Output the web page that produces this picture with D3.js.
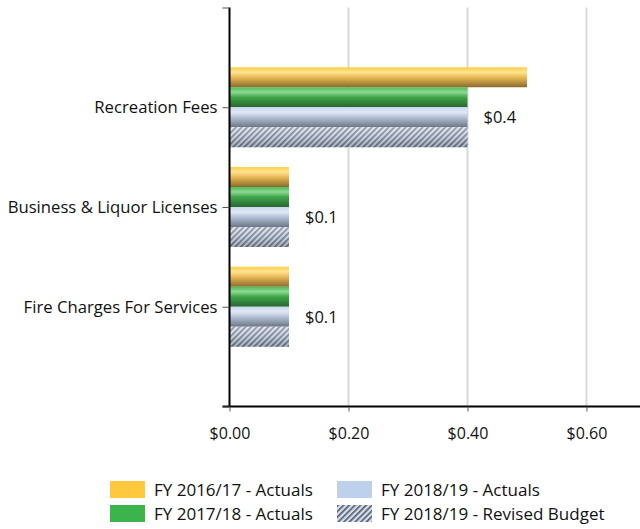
<!DOCTYPE html>
<meta charset="utf-8">
<style>
    body { margin: 0; background: #fff; }
    svg text { font-family: "Open Sans", sans-serif; fill: #111; }
</style>
<script src="https://d3js.org/d3.v7.min.js"></script>
<div id="chart"></div>
<script>

    // data
    var categories = ["Recreation Fees", "Business & Liquor Licenses", "Fire Charges For Services"];
    var seriesNames = ["FY 2016/17 - Actuals", "FY 2017/18 - Actuals", "FY 2018/19 - Actuals", "FY 2018/19 - Revised Budget"];
    var fy1617 = [0.5, 0.1, 0.1];
    var fy1718 = [0.4, 0.1, 0.1];
    var fy1819 = [0.4, 0.1, 0.1];
    var fy1819Budget = [0.4, 0.1, 0.1];
    var valueLabels = ["$0.4", "$0.1", "$0.1"];
    var xTicks = [0, 0.2, 0.4, 0.6];

    var width = 640, height = 529;
    var plotLeft = 229.5, plotRight = 640, plotTop = 7.5, plotBottom = 406.5;

    var svg = d3.select("#chart").append("svg")
        .attr("width", width)
        .attr("height", height);

    var defs = svg.append("defs");

    function grad(id, stops) {
        var g = defs.append("linearGradient").attr("id", id)
            .attr("x1", 0).attr("y1", 0).attr("x2", 0).attr("y2", 1);
        stops.forEach(function (s) {
            g.append("stop").attr("offset", s[0]).attr("stop-color", s[1]);
        });
    }
    grad("gYellow", [[0, "#ffcf45"], [0.25, "#ffe392"], [0.5, "#e9ba55"], [1, "#8a6a2c"]]);
    grad("gGreen", [[0, "#4cbb55"], [0.25, "#8fd894"], [0.5, "#3ea648"], [1, "#2a6531"]]);
    grad("gBlue", [[0, "#c8d6ee"], [0.25, "#e1e9f7"], [0.5, "#b4c1d6"], [1, "#6c7687"]]);
    grad("gHatchBg", [[0, "#ffffff"], [0.5, "#b8c0cc"], [1, "#4a5260"]]);

    var hatch = defs.append("pattern").attr("id", "hatch")
        .attr("patternUnits", "userSpaceOnUse")
        .attr("width", 4).attr("height", 4)
        .attr("patternTransform", "rotate(45)");
    hatch.append("rect").attr("width", 4).attr("height", 4).attr("fill", "#d7deea");
    hatch.append("rect").attr("width", 1.6).attr("height", 4).attr("fill", "#4d5970");

    var fills = ["url(#gYellow)", "url(#gGreen)", "url(#gBlue)", "url(#hatch)"];
    var series = [fy1617, fy1718, fy1819, fy1819Budget];

    var x = d3.scaleLinear().domain([0, 0.69]).range([plotLeft, plotRight]);
    // categories sit on positions 1..3, with blank slots at 0 and 4
    var y = d3.scaleLinear().domain([0, 4]).range([plotTop, plotBottom]);
    var barH = 20;

    // gridlines
    svg.append("g").selectAll("line")
        .data(xTicks.slice(1))
        .enter().append("line")
        .attr("x1", function (d) { return Math.round(x(d)) + 0.5; })
        .attr("x2", function (d) { return Math.round(x(d)) + 0.5; })
        .attr("y1", plotTop).attr("y2", plotBottom)
        .attr("stroke", "#d9d9d9").attr("stroke-width", 2);

    // bars
    series.forEach(function (vals, si) {
        svg.append("g").selectAll("rect")
            .data(vals)
            .enter().append("rect")
            .attr("x", x(0))
            .attr("y", function (d, i) { return y(i + 1) - 2 * barH + si * barH; })
            .attr("width", function (d) { return x(d) - x(0); })
            .attr("height", barH)
            .attr("fill", fills[si]);
    });
    // shading over the hatch
    svg.append("g").selectAll("rect")
        .data(fy1819Budget)
        .enter().append("rect")
        .attr("x", x(0))
        .attr("y", function (d, i) { return y(i + 1) + barH; })
        .attr("width", function (d) { return x(d) - x(0); })
        .attr("height", barH)
        .attr("fill", "url(#gHatchBg)")
        .attr("opacity", 0.35);

    // value labels
    svg.append("g").selectAll("text")
        .data(valueLabels)
        .enter().append("text")
        .attr("x", function (d, i) { return x(fy1819[i]) + 16; })
        .attr("y", function (d, i) { return y(i + 1) + 10; })
        .attr("dy", "0.35em")
        .attr("font-size", 16.5)
        .text(function (d) { return d; });

    // x axis
    var xAxis = svg.append("g")
        .attr("transform", "translate(0," + plotBottom + ")")
        .call(d3.axisBottom(x).tickValues(xTicks).tickSize(5)
            .tickFormat(function (d) { return "$" + d3.format(".2f")(d); }));
    xAxis.select(".domain").attr("stroke", "#000").attr("stroke-width", 2)
        .attr("d", "M" + (plotLeft - 7) + ",0H" + plotRight);
    xAxis.selectAll(".tick line").attr("stroke", "#555");
    xAxis.selectAll(".tick text")
        .attr("font-family", "Open Sans, sans-serif")
        .attr("font-size", 16).attr("fill", "#111").attr("dy", "1.55em");

    // y axis
    var yAxis = svg.append("g")
        .attr("transform", "translate(" + plotLeft + ",0)")
        .call(d3.axisLeft(y).tickValues([0, 1, 2, 3, 4]).tickSize(7)
            .tickFormat(function (d) { return categories[d - 1] || ""; }));
    yAxis.select(".domain").attr("stroke", "#000").attr("stroke-width", 2)
        .attr("d", "M0," + plotTop + "V" + plotBottom);
    yAxis.selectAll(".tick line").attr("stroke", "#555");
    yAxis.selectAll(".tick text")
        .attr("font-family", "Open Sans, sans-serif")
        .attr("font-size", 16.7).attr("fill", "#111").attr("x", -12);

    // legend
    var legendPos = [[110, 481], [110, 505], [337, 481], [337, 505]];
    var legendFills = ["#ffc83d", "#3cb44b", "#bdd0ec", "url(#hatch)"];
    var legend = svg.append("g").selectAll("g")
        .data(seriesNames)
        .enter().append("g")
        .attr("transform", function (d, i) { return "translate(" + legendPos[i][0] + "," + legendPos[i][1] + ")"; });
    legend.append("rect")
        .attr("width", 35).attr("height", 17)
        .attr("fill", function (d, i) { return legendFills[i]; });
    legend.append("text")
        .attr("x", 44).attr("y", 9).attr("dy", "0.35em")
        .attr("font-size", 17)
        .text(function (d) { return d; });

</script>
